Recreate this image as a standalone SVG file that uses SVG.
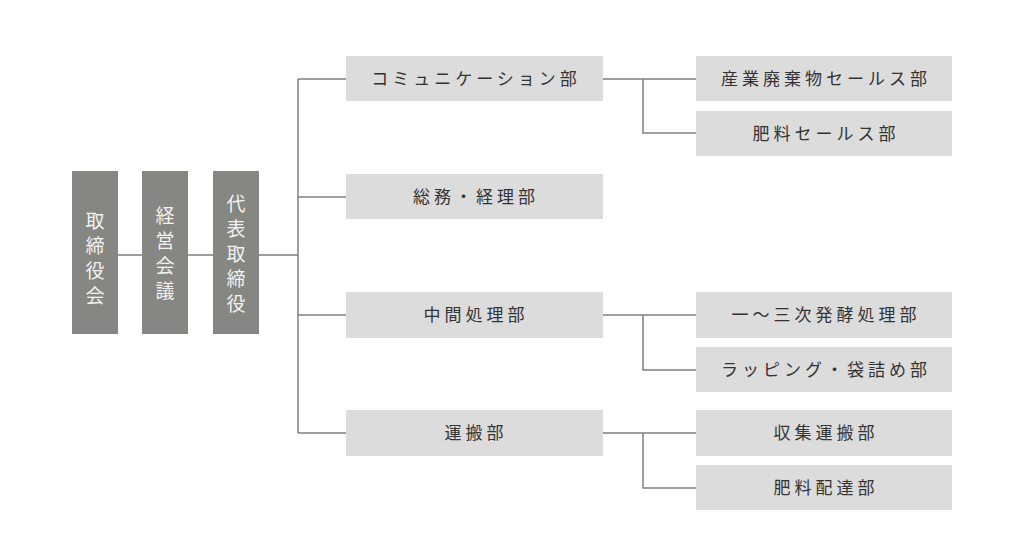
<svg xmlns="http://www.w3.org/2000/svg" width="1024" height="553" viewBox="0 0 1024 553">
<style>
.d{fill:#868682}.l{fill:#dcdcdc}
.v{font-family:"Noto Sans CJK JP",sans-serif;font-size:19px;fill:#f2f2f2;text-anchor:middle}
.t{font-family:"Noto Sans CJK JP",sans-serif;font-size:17px;fill:#333;text-anchor:middle;letter-spacing:4px}
.c{stroke:#808080;stroke-width:1.5;fill:none}
</style>
<rect width="1024" height="553" fill="#fff"/>
<g id="connectors" class="c">
<path d="M118 255H142M188 255H213M259 255H298M298 79V433M298 79H346M298 197H346M298 315H346M298 433H346"/>
<path d="M603 79H696M643 79V133H696M603 315H696M643 315V370H696M603 433H696M643 433V488H696"/>
</g>
<g id="n1"><rect class="d" x="72" y="171" width="46" height="163"/><text class="v" x="95" y="228">取</text><text class="v" x="95" y="253">締</text><text class="v" x="95" y="278">役</text><text class="v" x="95" y="303">会</text></g>
<g id="n2"><rect class="d" x="142" y="171" width="46" height="163"/><text class="v" x="165" y="223">経</text><text class="v" x="165" y="248">営</text><text class="v" x="165" y="273">会</text><text class="v" x="165" y="298">議</text></g>
<g id="n3"><rect class="d" x="213" y="171" width="46" height="163"/><text class="v" x="236" y="211">代</text><text class="v" x="236" y="236">表</text><text class="v" x="236" y="261">取</text><text class="v" x="236" y="286">締</text><text class="v" x="236" y="311">役</text></g>
<g id="m1"><rect class="l" x="346" y="56" width="257" height="45"/><text class="t" x="476" y="85">コミュニケーション部</text></g>
<g id="m2"><rect class="l" x="346" y="174" width="257" height="45"/><text class="t" x="476" y="203">総務・経理部</text></g>
<g id="m3"><rect class="l" x="346" y="292" width="257" height="46"/><text class="t" x="476" y="321">中間処理部</text></g>
<g id="m4"><rect class="l" x="346" y="410" width="257" height="46"/><text class="t" x="476" y="439">運搬部</text></g>
<g id="r1"><rect class="l" x="696" y="56" width="256" height="45"/><text class="t" x="826" y="85">産業廃棄物セールス部</text></g>
<g id="r2"><rect class="l" x="696" y="111" width="256" height="45"/><text class="t" x="826" y="140">肥料セールス部</text></g>
<g id="r3"><rect class="l" x="696" y="292" width="256" height="46"/><text class="t" x="826" y="321">一〜三次発酵処理部</text></g>
<g id="r4"><rect class="l" x="696" y="347" width="256" height="45"/><text class="t" x="826" y="376">ラッピング・袋詰め部</text></g>
<g id="r5"><rect class="l" x="696" y="410" width="256" height="46"/><text class="t" x="826" y="439">収集運搬部</text></g>
<g id="r6"><rect class="l" x="696" y="465" width="256" height="45"/><text class="t" x="826" y="494">肥料配達部</text></g>
</svg>
